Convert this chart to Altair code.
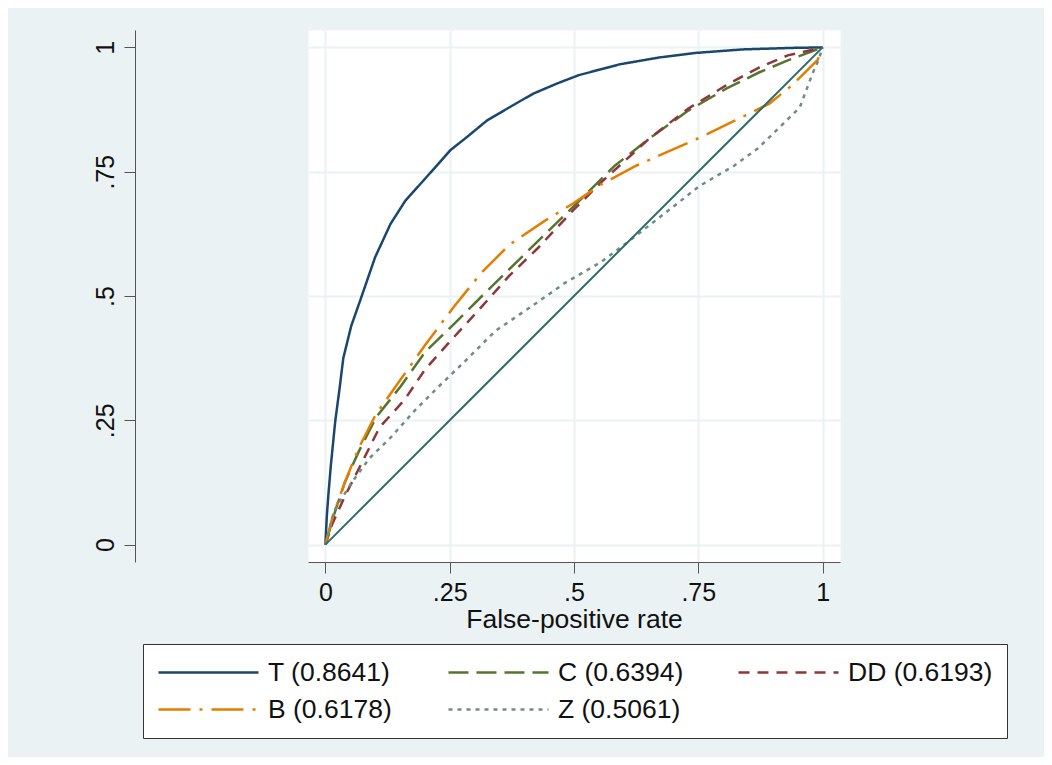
import altair as alt
import pandas as pd

# ---- data ----
series_labels = ["T (0.8641)", "C (0.6394)", "DD (0.6193)", "B (0.6178)", "Z (0.5061)"]
series_colors = ["#1A476F", "#55752F", "#90353B", "#E37E00", "#6E8E84"]
series_dashes = [[1, 0], [20, 8], [11, 8], [32, 9, 3, 9], [4, 5]]

t_fpr = [0, 0.003, 0.006, 0.011, 0.020, 0.028, 0.036, 0.052, 0.070, 0.100, 0.131, 0.161, 0.197, 0.221, 0.251, 0.285, 0.325, 0.371, 0.418, 0.465, 0.509, 0.592, 0.673, 0.746, 0.840, 0.940, 1.0]
t_tpr = [0, 0.060, 0.100, 0.160, 0.250, 0.310, 0.375, 0.440, 0.491, 0.578, 0.645, 0.692, 0.732, 0.759, 0.793, 0.820, 0.853, 0.880, 0.907, 0.927, 0.944, 0.966, 0.980, 0.989, 0.996, 0.999, 1.0]

c_fpr = [0, 0.018, 0.039, 0.067, 0.102, 0.152, 0.201, 0.258, 0.314, 0.370, 0.427, 0.498, 0.582, 0.653, 0.730, 0.808, 0.873, 0.930, 1.0]
c_tpr = [0, 0.062, 0.125, 0.187, 0.256, 0.319, 0.388, 0.443, 0.499, 0.554, 0.610, 0.679, 0.762, 0.818, 0.873, 0.918, 0.950, 0.974, 1.0]

dd_fpr = [0, 0.014, 0.039, 0.074, 0.109, 0.159, 0.201, 0.251, 0.314, 0.370, 0.427, 0.498, 0.554, 0.653, 0.730, 0.808, 0.873, 0.930, 1.0]
dd_tpr = [0, 0.042, 0.097, 0.166, 0.236, 0.291, 0.353, 0.409, 0.478, 0.541, 0.596, 0.672, 0.728, 0.818, 0.877, 0.925, 0.960, 0.984, 1.0]

b_fpr = [0, 0.014, 0.039, 0.067, 0.102, 0.152, 0.201, 0.258, 0.314, 0.370, 0.441, 0.498, 0.554, 0.625, 0.681, 0.752, 0.822, 0.893, 0.940, 0.980, 0.990, 1.0]
b_tpr = [0, 0.055, 0.125, 0.194, 0.263, 0.333, 0.402, 0.478, 0.547, 0.603, 0.651, 0.686, 0.724, 0.762, 0.787, 0.818, 0.852, 0.887, 0.925, 0.965, 0.975, 1.0]

z_fpr = [0, 0.018, 0.053, 0.088, 0.131, 0.180, 0.229, 0.286, 0.342, 0.413, 0.483, 0.554, 0.610, 0.681, 0.752, 0.822, 0.870, 0.907, 0.954, 0.980, 0.992, 1.0]
z_tpr = [0, 0.069, 0.125, 0.173, 0.215, 0.270, 0.319, 0.374, 0.430, 0.478, 0.527, 0.568, 0.610, 0.665, 0.721, 0.762, 0.797, 0.833, 0.879, 0.948, 0.975, 1.0]

ref_fpr = [0, 1]
ref_tpr = [0, 1]

tick_values = [0, 0.25, 0.5, 0.75, 1]
tick_labels = ["0", ".25", ".5", ".75", "1"]

x_title = "False-positive rate"

# ---- build tables ----
rows = []
for lab, xs, ys in zip(series_labels, [t_fpr, c_fpr, dd_fpr, b_fpr, z_fpr],
                       [t_tpr, c_tpr, dd_tpr, b_tpr, z_tpr]):
    for i, (a, b) in enumerate(zip(xs, ys)):
        rows.append({"series": lab, "fpr": a, "tpr": b, "idx": i})
df = pd.DataFrame(rows)
ref_df = pd.DataFrame({"fpr": ref_fpr, "tpr": ref_tpr, "idx": list(range(len(ref_fpr)))})

label_expr = " : ".join(f"datum.value == {v} ? '{l}'" for v, l in zip(tick_values, tick_labels)) + " : ''"

FONT = "Liberation Sans"
BG = "#EAF2F3"
dom = [-0.035, 1.035]

x_scale = alt.Scale(domain=dom, nice=False, zero=False)
y_scale = alt.Scale(domain=dom, nice=False, zero=False)

x_axis = alt.Axis(values=tick_values, labelExpr=label_expr, title=x_title,
                  grid=True, gridColor=BG, gridWidth=2,
                  domainColor="#555555", domainWidth=1,
                  tickColor="#555555", tickSize=11, tickWidth=1,
                  labelFont=FONT, labelFontSize=25, labelColor="#111111",
                  labelBaseline="alphabetic", labelPadding=27,
                  titleFont=FONT, titleFontSize=26.5, titleFontWeight="normal",
                  titleColor="#111111", titleBaseline="alphabetic", titleY=65,
                  labelFlush=False, labelOverlap=False)

y_axis = alt.Axis(values=tick_values, labelExpr=label_expr, title=None,
                  grid=True, gridColor=BG, gridWidth=2, offset=173,
                  domainColor="#555555", domainWidth=1,
                  tickColor="#555555", tickSize=11, tickWidth=1,
                  labelFont=FONT, labelFontSize=25, labelColor="#111111",
                  labelAngle=270, labelAlign="center", labelBaseline="alphabetic",
                  labelPadding=11, labelFlush=False, labelOverlap=False)

legend = alt.Legend(title=None, orient="none", legendX=-165, legendY=614,
                    direction="horizontal", columns=3, gridAlign="all",
                    columnPadding=34, rowPadding=8, clipHeight=29,
                    symbolType="stroke", symbolSize=10000, symbolStrokeWidth=2.5,
                    labelFont=FONT, labelFontSize=26.5, labelColor="#111111",
                    labelOffset=8, labelLimit=400,
                    fillColor="white", strokeColor="#333333", padding=14,
                    cornerRadius=0)

lines = alt.Chart(df).mark_line(strokeWidth=2.5).encode(
    x=alt.X("fpr:Q", scale=x_scale, axis=x_axis),
    y=alt.Y("tpr:Q", scale=y_scale, axis=y_axis),
    color=alt.Color("series:N", scale=alt.Scale(domain=series_labels, range=series_colors),
                    legend=legend, sort=series_labels),
    strokeDash=alt.StrokeDash("series:N", scale=alt.Scale(domain=series_labels, range=series_dashes),
                              legend=legend, sort=series_labels),
    order="idx:Q",
    detail="series:N",
)

ref_line = alt.Chart(ref_df).mark_line(strokeWidth=2, color="#2F6E65").encode(
    x=alt.X("fpr:Q", scale=x_scale),
    y=alt.Y("tpr:Q", scale=y_scale),
    order="idx:Q",
)

chart = alt.layer(lines, ref_line).properties(
    width=532, height=532,
    background=BG,
    padding={"left": 300, "top": 22, "right": 204, "bottom": 195},
    autosize=alt.AutoSizeParams(type="none"),
).configure_view(fill="white", stroke="transparent")

chart.save("out.html", embed_options={"renderer": "svg", "actions": False})
